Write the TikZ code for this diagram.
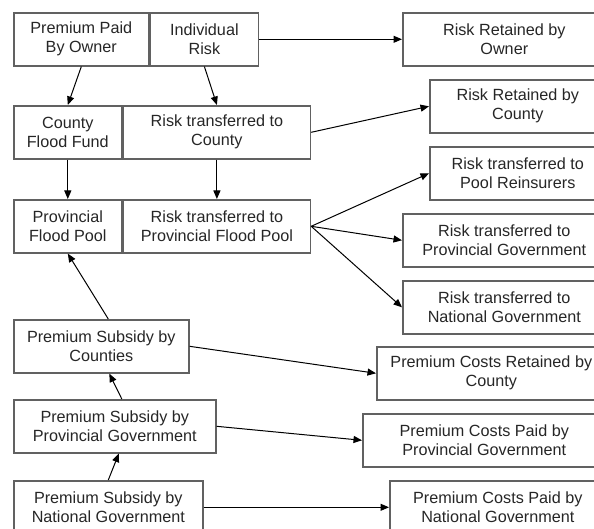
\documentclass[tikz,border=0pt]{standalone}
\usepackage{fontspec}
\setmainfont{Liberation Sans}
\usetikzlibrary{arrows.meta,positioning}

\begin{document}
\begin{tikzpicture}[
  x=1pt, y=-1pt, >={Triangle[length=8.5pt,width=7pt]},
  box/.style={draw=black!62, line width=1.6pt, inner sep=0pt, minimum height=53pt, align=center, text=black!85, font=\fontsize{16.2}{19}\selectfont},
  arrow/.style={->, line width=1pt, black}
]
\useasboundingbox (0,0) rectangle (594,529);

% top rows
\node[box, minimum width=135pt, anchor=north west] (paid) at (13,12) {Premium Paid\\By Owner};
\node[box, minimum width=108pt, right=0pt of paid] (indrisk) {Individual\\Risk};
\node[box, minimum width=108pt, anchor=north west] (fund) at (13,105) {County\\Flood Fund};
\node[box, minimum width=187pt, right=0pt of fund] (riskcounty) {Risk transferred to\\County};
\node[box, minimum width=108pt, anchor=north west] (pool) at (13,199) {Provincial\\Flood Pool};
\node[box, minimum width=187pt, right=0pt of pool] (riskpool) {Risk transferred to\\Provincial Flood Pool};

% right column
\node[box, minimum width=203pt, anchor=north west] (ownerret) at (402,12) {Risk Retained by\\Owner};
\node[box, minimum width=176pt, anchor=north west] (countyret) at (429,79) {Risk Retained by\\County};
\node[box, minimum width=176pt, anchor=north west] (reins) at (429,146) {Risk transferred to\\Pool Reinsurers};
\node[box, minimum width=203pt, anchor=north west] (provgov) at (402,213) {Risk transferred to\\Provincial Government};
\node[box, minimum width=203pt, anchor=north west] (natgov) at (402,280) {Risk transferred to\\National Government};

% subsidies
\node[box, minimum width=175pt, anchor=north west] (subcounty) at (13,319) {Premium Subsidy by\\Counties};
\node[box, minimum width=202pt, anchor=north west] (subprov) at (13,399) {Premium Subsidy by\\Provincial Government};
\node[box, minimum width=189pt, anchor=north west] (subnat) at (13,480) {Premium Subsidy by\\National Government};
\node[box, minimum width=229pt, anchor=north west] (costcounty) at (376,346) {Premium Costs Retained by\\County};
\node[box, minimum width=243pt, anchor=north west] (costprov) at (362,413) {Premium Costs Paid by\\Provincial Government};
\node[box, minimum width=216pt, anchor=north west] (costnat) at (389,480) {Premium Costs Paid by\\National Government};

\draw[arrow] (paid.south) -- (fund.north);
\draw[arrow] (indrisk.south) -- (riskcounty.north);
\draw[arrow] (fund.south) -- (pool.north);
\draw[arrow] (riskcounty.south) -- (riskpool.north);
\draw[arrow] (indrisk.east) -- (ownerret.west);
\draw[arrow] (riskcounty.east) -- (countyret.west);
\draw[arrow] (riskpool.east) -- (reins.west);
\draw[arrow] (riskpool.east) -- (provgov.west);
\draw[arrow] (riskpool.east) -- (natgov.west);
\draw[arrow] ([xshift=7pt]subcounty.north) -- (pool.south);
\draw[arrow] ([xshift=7pt]subprov.north) -- ([xshift=8pt]subcounty.south);
\draw[arrow] (subnat.north) -- ([xshift=4pt]subprov.south);
\draw[arrow] (subcounty.east) -- (costcounty.west);
\draw[arrow] (subprov.east) -- (costprov.west);
\draw[arrow] (subnat.east) -- (costnat.west);

\end{tikzpicture}
\end{document}
